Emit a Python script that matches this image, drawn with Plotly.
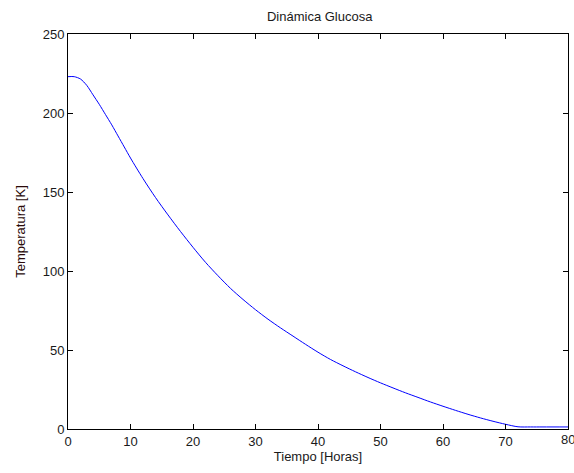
import plotly.graph_objects as go

tiempo = [0, 1, 2, 3, 4, 5, 6, 7, 8, 9, 10, 12, 14, 16, 18, 20, 22, 24, 26, 28, 30,
          32, 34, 36, 38, 40, 42, 44, 46, 48, 50, 52, 54, 56, 58, 60, 62, 64, 66, 68,
          70, 72, 74, 76, 80]
glucosa = [223, 223, 221.5, 217.5, 211.5, 205.5, 199, 192.5, 185.5, 178.5, 171.5, 158.5,
           146.5, 135.5, 125, 115, 105.5, 97, 89, 82, 75.5, 69.5, 64, 58.8, 53.6, 48.6,
           44, 40, 36.2, 32.6, 29.2, 26, 22.9, 20, 17.1, 14.4, 11.8, 9.3, 7, 4.9, 3,
           1.4, 1.3, 1.3, 1.3]

x_ticks = [0, 10, 20, 30, 40, 50, 60, 70, 80]
y_ticks = [0, 50, 100, 150, 200, 250]

font = dict(family="Liberation Sans, Arial, sans-serif", size=13, color="#1a1a1a")

fig = go.Figure()
fig.add_trace(go.Scatter(x=tiempo, y=glucosa, mode="lines",
                         line=dict(color="#0000ff", width=1, shape="spline", smoothing=0.8),
                         showlegend=False))

axis_common = dict(showline=True, linecolor="black", linewidth=1, mirror="ticks",
                   ticks="inside", ticklen=5, tickcolor="black", tickwidth=1,
                   showgrid=False, zeroline=False, tickfont=font, automargin=False)

fig.update_layout(
    width=574, height=473,
    margin=dict(l=68, r=6, t=34, b=44),
    paper_bgcolor="white", plot_bgcolor="white",
    font=font,
    title=dict(text="Dinámica Glucosa", x=0.557, xanchor="center", y=0.966,
               yanchor="middle", font=dict(family=font["family"], size=13, color="#1a1a1a")),
    xaxis=dict(range=[0, 80], tickvals=x_ticks, title=dict(text="Tiempo [Horas]",
               standoff=4, font=font), **axis_common),
    yaxis=dict(range=[0, 250], tickvals=y_ticks, title=dict(text="Temperatura [K]",
               standoff=14, font=dict(family=font["family"], size=13, color="#2a0a0a")),
               **axis_common),
)

# last x tick label (would otherwise be hidden past the page edge)
fig.add_annotation(x=x_ticks[-1], y=0, xref="x", yref="paper", text=str(x_ticks[-1]),
                   showarrow=False, xanchor="center", yanchor="top", yshift=-1,
                   font=font)

fig.write_html("out.html")
